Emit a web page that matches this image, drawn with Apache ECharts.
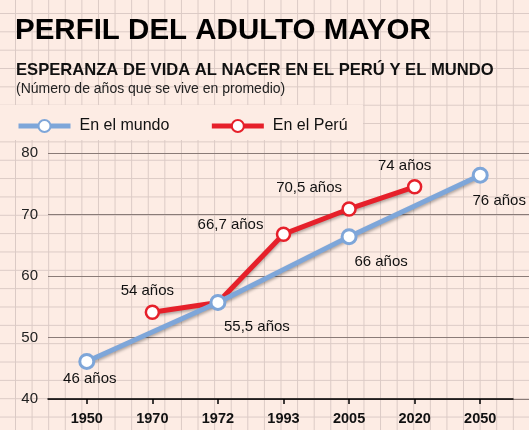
<!DOCTYPE html>
<html>
<head>
<meta charset="utf-8">
<script src="https://cdn.jsdelivr.net/npm/echarts@6/dist/echarts.min.js"></script>
<style>
  html, body { margin: 0; padding: 0; }
  #chart {
    width: 529px;
    height: 430px;
    background-color: #fdece4;
    background-image:
      linear-gradient(to right, #dbcac5 1px, transparent 1px),
      linear-gradient(to bottom, #dbcac5 1px, transparent 1px);
    background-size: 16.6px 18.35px;
    background-position: 15px 13px;
  }
</style>
</head>
<body>
<div id="chart"></div>
<script>
// datos
const years = ['1950', '1970', '1972', '1993', '2005', '2020', '2050']
const mundo = [46.1, null, 55.7, null, 66.4, null, 76.4]
const peru = [null, 54.1, 55.7, 66.8, 70.9, 74.5, null]
const mundoLabels = ['46 años', '', '55,5 años', '', '66 años', '', '76 años']
const peruLabels = ['', '54 años', '', '66,7 años', '70,5 años', '74 años', '']
const yTicks = [40, 50, 60, 70, 80]

// desplazamiento de las etiquetas respecto al punto
const mundoOffsets = [[3, 17], null, [39, 24], null, [32, 25], null, [19, 26]]
const peruOffsets = [null, [-5, -21], null, [-53, -9], [-40, -21], [-10, -21], null]

const labelFont = '"Liberation Sans", Arial, sans-serif'
const bg = '#fdece4'

function buildData(values, labels, offsets) {
  return values.map((v, i) => {
    if (v === null) return null
    return {
      value: v,
      label: labels[i] ? {
        show: true,
        formatter: labels[i],
        position: 'inside',
        offset: offsets[i]
      } : { show: false }
    }
  })
}

const chart = echarts.init(document.getElementById('chart'), null, { renderer: 'canvas' })

const option = {
  backgroundColor: 'transparent',
  animation: false,
  graphic: [
    { type: 'rect', z: -1, shape: { x: 0, y: 105, width: 363, height: 35 }, style: { fill: bg } },
    {
      type: 'text', left: 15, top: 16,
      style: { text: 'PERFIL DEL ADULTO MAYOR', font: 'bold 29.5px "Liberation Sans", Arial, sans-serif', fill: '#000' }
    },
    {
      type: 'text', left: 16, top: 62,
      style: { text: 'ESPERANZA DE VIDA AL NACER EN EL PERÚ Y EL MUNDO', font: 'bold 16.6px "Liberation Sans", Arial, sans-serif', fill: '#111' }
    },
    {
      type: 'text', left: 16, top: 82,
      style: { text: '(Número de años que se vive en promedio)', font: '14px "Liberation Sans", Arial, sans-serif', fill: '#222' }
    }
  ],
  legend: {
    left: 16,
    top: 118,
    padding: 0,
    itemWidth: 52,
    itemHeight: 15,
    itemGap: 40,
    data: ['En el mundo', 'En el Perú'],
    lineStyle: { width: 5 },
    textStyle: { fontFamily: labelFont, fontSize: 16, color: '#111', padding: [0, 0, 0, 4] }
  },
  grid: [
    // lineas horizontales de fondo
    { left: 48, right: 0, top: 153, bottom: 31 },
    // datos
    { left: 54, right: 16, top: 153, bottom: 31 },
    // linea del eje x
    { left: 48, right: 16, top: 153, bottom: 31 }
  ],
  xAxis: [
    { gridIndex: 0, type: 'value', min: 0, max: 1, show: false },
    {
      gridIndex: 1,
      type: 'category',
      data: years,
      boundaryGap: true,
      axisLine: { show: false },
      axisTick: { show: true, alignWithLabel: true, length: 5, inside: false, lineStyle: { color: '#000', width: 1.5 } },
      axisLabel: { color: '#111', fontFamily: labelFont, fontWeight: 'bold', fontSize: 14.5, margin: 12 }
    },
    {
      gridIndex: 2,
      type: 'value',
      min: 0,
      max: 1,
      axisLine: { show: true, onZero: false, lineStyle: { color: '#000', width: 1.5 } },
      axisTick: { show: false },
      axisLabel: { show: false },
      splitLine: { show: false }
    }
  ],
  yAxis: [
    {
      gridIndex: 0,
      type: 'value',
      min: 40,
      max: 80,
      interval: 10,
      axisLine: { show: false },
      axisTick: { show: false },
      axisLabel: {
        color: '#222', fontFamily: labelFont, fontSize: 15, margin: 10,
        formatter: v => yTicks.includes(v) ? String(v) : ''
      },
      splitLine: { show: true, lineStyle: { color: '#8a7b77', width: 1 } }
    },
    { gridIndex: 1, type: 'value', min: 40, max: 80, interval: 10, show: false },
    { gridIndex: 2, type: 'value', min: 40, max: 80, interval: 10, show: false }
  ],
  series: [
    {
      name: 'En el Perú',
      type: 'line',
      xAxisIndex: 1,
      yAxisIndex: 1,
      z: 3,
      connectNulls: false,
      symbol: 'circle',
      symbolSize: 13,
      data: buildData(peru, peruLabels, peruOffsets),
      lineStyle: { color: '#e6202a', width: 5, shadowColor: 'rgba(0,0,0,0.3)', shadowBlur: 3, shadowOffsetY: 2 },
      itemStyle: { color: '#ffffff', borderColor: '#e6202a', borderWidth: 2.5 },
      label: { color: '#111', fontFamily: labelFont, fontSize: 15 }
    },
    {
      name: 'En el mundo',
      type: 'line',
      xAxisIndex: 1,
      yAxisIndex: 1,
      z: 4,
      connectNulls: true,
      symbol: 'circle',
      symbolSize: 14,
      data: buildData(mundo, mundoLabels, mundoOffsets),
      lineStyle: { color: '#7ea6d9', width: 5, shadowColor: 'rgba(0,0,0,0.3)', shadowBlur: 3, shadowOffsetY: 2 },
      itemStyle: { color: '#ffffff', borderColor: '#7ea6d9', borderWidth: 3 },
      label: { color: '#111', fontFamily: labelFont, fontSize: 15 }
    }
  ]
}

chart.setOption(option)
</script>
</body>
</html>
